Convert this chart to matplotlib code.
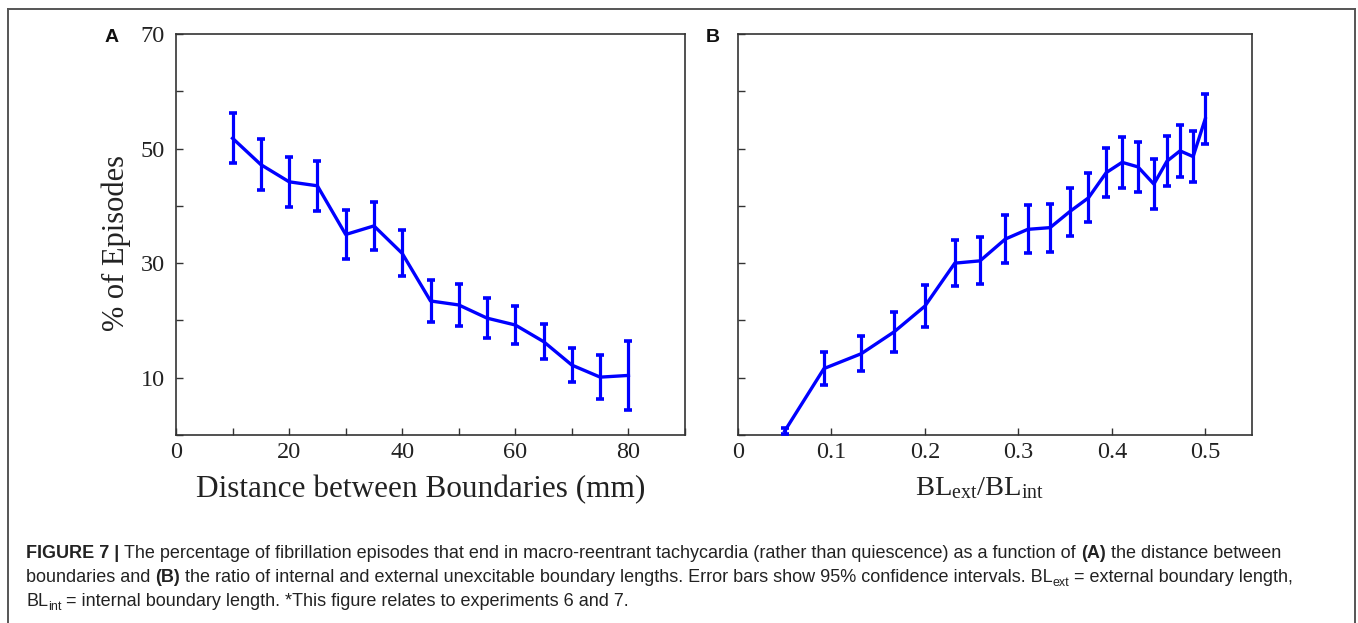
import matplotlib
matplotlib.use('Agg')
import matplotlib.pyplot as plt
from matplotlib.lines import Line2D

# ---------------- data ----------------
A_distance = [10, 15, 20, 25, 30, 35, 40, 45, 50, 55, 60, 65, 70, 75, 80]
A_pct = [51.8, 47.2, 44.2, 43.5, 35.0, 36.5, 31.7, 23.4, 22.7, 20.4, 19.2, 16.3, 12.2, 10.1, 10.4]
A_err = [4.4, 4.4, 4.4, 4.4, 4.2, 4.2, 4.0, 3.7, 3.6, 3.5, 3.4, 3.1, 3.0, 3.8, 6.0]
A_xticks = [0, 10, 20, 30, 40, 50, 60, 70, 80, 90]
A_xticklabels = ['0', '', '20', '', '40', '', '60', '', '80', '']

B_ratio = [0.05, 0.092, 0.132, 0.167, 0.20, 0.232, 0.259, 0.286, 0.31, 0.334,
           0.355, 0.375, 0.394, 0.411, 0.428, 0.445, 0.459, 0.473, 0.487, 0.50]
B_pct = [0.7, 11.6, 14.2, 18.0, 22.5, 30.0, 30.4, 34.2, 35.9, 36.2,
         39.0, 41.4, 45.8, 47.6, 46.8, 43.8, 47.8, 49.6, 48.6, 55.2]
B_err = [0.5, 2.9, 3.1, 3.5, 3.6, 4.0, 4.1, 4.2, 4.2, 4.2,
         4.2, 4.3, 4.3, 4.4, 4.4, 4.4, 4.4, 4.5, 4.4, 4.4]
B_xticks = [0, 0.1, 0.2, 0.3, 0.4, 0.5]
B_xticklabels = ['0', '0.1', '0.2', '0.3', '0.4', '0.5']

Y_ticks = [0, 10, 20, 30, 40, 50, 60, 70]
Y_ticklabels = ['', '10', '', '30', '', '50', '', '70']

A_xlabel = 'Distance between Boundaries (mm)'
B_xlabel = r'$\mathregular{BL_{ext}/BL_{int}}$'
Y_label = '% of Episodes'

caption_lines = [
    [("FIGURE 7 |", 'b'),
     (" The percentage of fibrillation episodes that end in macro-reentrant tachycardia (rather than quiescence) as a function of ", 'n'),
     ("(A)", 'b'), (" the distance between", 'n')],
    [("boundaries and ", 'n'), ("(B)", 'b'),
     (" the ratio of internal and external unexcitable boundary lengths. Error bars show 95% confidence intervals. BL", 'n'),
     ("ext", 's'), (" = external boundary length,", 'n')],
    [("BL", 'n'), ("int", 's'),
     (" = internal boundary length. *This figure relates to experiments 6 and 7.", 'n')],
]

# ---------------- style ----------------
plt.rcParams['font.family'] = 'serif'
plt.rcParams['font.serif'] = ['Liberation Serif', 'DejaVu Serif']
plt.rcParams['mathtext.fontset'] = 'custom'
plt.rcParams['mathtext.rm'] = 'Liberation Serif'
plt.rcParams['mathtext.it'] = 'Liberation Serif:italic'
plt.rcParams['mathtext.bf'] = 'Liberation Serif:bold'

W, H = 1358, 623
fig = plt.figure(figsize=(W / 100, H / 100), dpi=100)

axA = fig.add_axes([176 / W, 1 - 435 / H, 509 / W, 401 / H])
axB = fig.add_axes([738 / W, 1 - 435 / H, 514 / W, 401 / H])

blue = '#0000FF'
spine_c = '#333333'
for ax, x, y, e in [(axA, A_distance, A_pct, A_err), (axB, B_ratio, B_pct, B_err)]:
    ax.errorbar(x, y, yerr=e, color=blue, lw=2.4, elinewidth=2.3,
                capsize=3.2, capthick=2.6, zorder=3)
    ax.set_ylim(0, 70)
    ax.set_yticks(Y_ticks)
    ax.tick_params(direction='in', length=5, width=1.0, colors=spine_c,
                   labelsize=17.5, labelcolor='#222222')
    ax.tick_params(axis='y', pad=8)
    ax.tick_params(axis='x', pad=5)
    for sp in ax.spines.values():
        sp.set_color(spine_c)
        sp.set_linewidth(1.2)

axA.set_xlim(0, 90)
axA.set_xticks(A_xticks)
axA.set_xticklabels(A_xticklabels)
axA.set_yticklabels(Y_ticklabels)
axA.set_xlabel(A_xlabel, fontsize=22.5, color='#222222')
axA.xaxis.set_label_coords(0.48, -0.10)
axA.set_ylabel(Y_label, fontsize=22, color='#222222')
axA.yaxis.set_label_coords(-0.088, 0.48)

axB.set_xlim(0, 0.55)
axB.set_xticks(B_xticks)
axB.set_xticklabels(B_xticklabels)
axB.set_yticklabels([])
axB.set_xlabel(B_xlabel, fontsize=20.5, color='#222222')
axB.xaxis.set_label_coords(0.47, -0.10)

# panel letters
fig.text(112 / W, 1 - 38 / H, 'A', family='Liberation Sans', weight='bold',
         size=14, ha='center', va='center', color='#111111')
fig.text(713 / W, 1 - 38 / H, 'B', family='Liberation Sans', weight='bold',
         size=14, ha='center', va='center', color='#111111')

# figure frame (left, top, right)
frame_kw = dict(transform=fig.transFigure, color='#555555', lw=1.4)
fig.add_artist(Line2D([8 / W, 8 / W], [0, 1 - 9 / H], **frame_kw))
fig.add_artist(Line2D([8 / W, 1355 / W], [1 - 9 / H, 1 - 9 / H], **frame_kw))
fig.add_artist(Line2D([1355 / W, 1355 / W], [0, 1 - 9 / H], **frame_kw))

# caption with mixed styles
renderer = fig.canvas.get_renderer()


def text_width(s, **kw):
    t = fig.text(0, 0, s, **kw)
    w = t.get_window_extent(renderer).width
    t.remove()
    return w


def draw_runs(x_px, base_px, runs):
    x = x_px
    for s, style in runs:
        kw = dict(family='Liberation Sans', size=13.0, color='#222222')
        dy = 0
        if style == 'b':
            kw['weight'] = 'bold'
        if style == 's':
            kw['size'] = 9.0
            dy = 4
        sw = text_width('x x', **kw) - text_width('xx', **kw)
        lead = len(s) - len(s.lstrip(' '))
        trail = len(s) - len(s.rstrip(' '))
        core = s.strip(' ')
        x += lead * sw
        t = fig.text(x / W, 1 - (base_px + dy) / H, core, va='baseline', ha='left', **kw)
        x += t.get_window_extent(renderer).width
        x += trail * sw


for i, runs in enumerate(caption_lines):
    draw_runs(26, 558 + 24 * i, runs)

fig.savefig('out.png', dpi=100)
